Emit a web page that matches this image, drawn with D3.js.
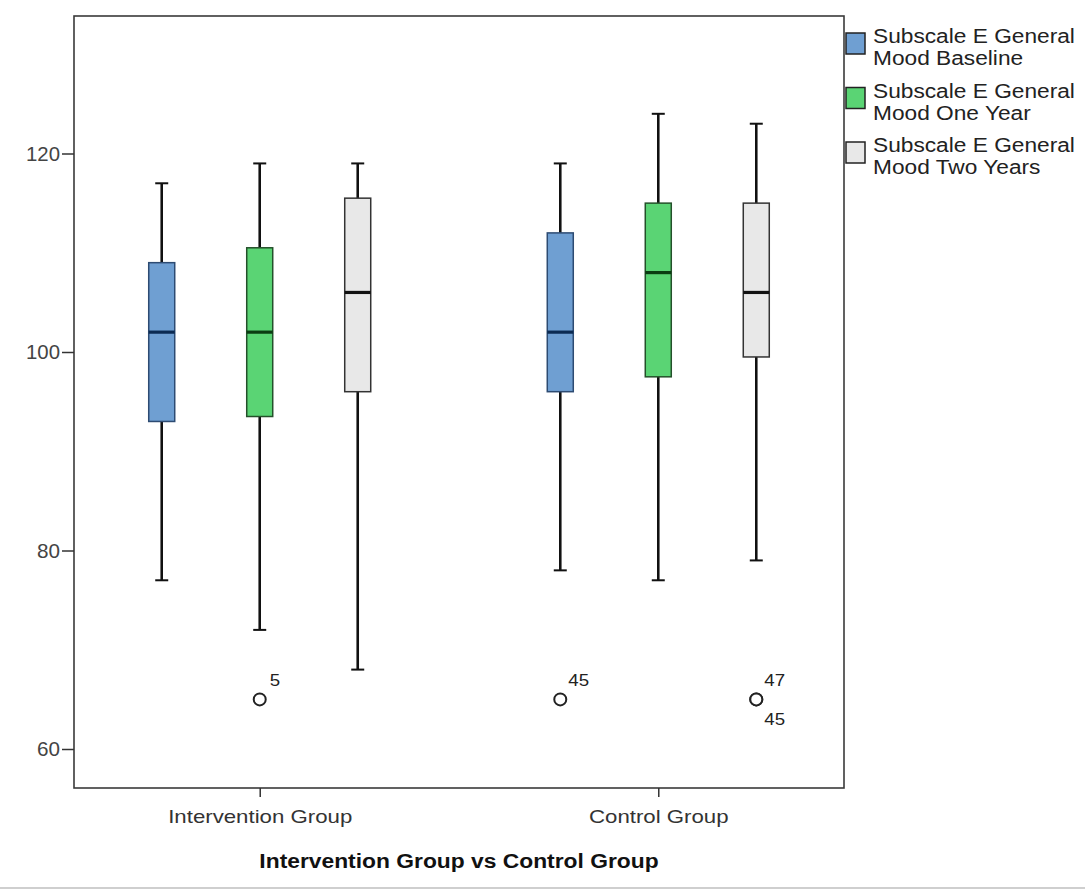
<!DOCTYPE html>
<html><head><meta charset="utf-8">
<script src="https://cdn.jsdelivr.net/npm/d3@7"></script>
<style>
html,body{margin:0;padding:0;background:#fff;}
svg{display:block;font-family:"Liberation Sans",Arial,sans-serif;}
</style></head>
<body>
<svg id="chart" width="1085" height="890"></svg>
<script>
// ---- data ----
const groups = ["Intervention Group", "Control Group"];
const seriesNames = ["Baseline", "One Year", "Two Years"];
const legendLines = [
  ["Subscale E General", "Mood Baseline"],
  ["Subscale E General", "Mood One Year"],
  ["Subscale E General", "Mood Two Years"]
];
const seriesColors = ["#6f9fd2", "#5ad474", "#e8e8e8"];
const seriesStrokes = ["#2d4b72", "#24502a", "#333333"];
const medianStrokes = ["#0b2a52", "#0b3d12", "#111111"];

// per series, values for [Intervention, Control]
const whiskerLow = [[77, 78], [72, 77], [68, 79]];
const q1Values   = [[93, 96], [93.5, 97.5], [96, 99.5]];
const medians    = [[102, 102], [102, 108], [106, 106]];
const q3Values   = [[109, 112], [110.5, 115], [115.5, 115]];
const whiskerHigh= [[117, 119], [119, 124], [119, 123]];

const outlierGroup  = ["Intervention Group", "Control Group", "Control Group", "Control Group"];
const outlierSeries = ["One Year", "Baseline", "Two Years", "Two Years"];
const outlierValue  = [65, 65, 65, 65];
const outlierLabel  = ["5", "45", "47", "45"];
const outlierLabelPos = ["above", "above", "above", "below"];

const yTicks = [60, 80, 100, 120];
const xTitle = "Intervention Group vs Control Group";

// ---- layout ----
const svg = d3.select("#chart");
const plot = {left: 74, right: 844, top: 16, bottom: 788};
const STRETCH = 1.17;

const y = d3.scaleLinear().domain([60, 120]).range([749, 153.5]);
const x = d3.scalePoint().domain(groups).range([plot.left, plot.right]).padding(0.466);
const xs = d3.scalePoint().domain(seriesNames).range([-98, 98]);
const boxW = 26, capW = 13;

function stretch(sel, factor) {
  sel.each(function () {
    const len = this.getComputedTextLength();
    d3.select(this).attr("textLength", len * factor).attr("lengthAdjust", "spacingAndGlyphs");
  });
}

// bottom light border
svg.append("line").attr("x1", 0).attr("x2", 1085).attr("y1", 888).attr("y2", 888)
  .attr("stroke", "#cfcfcf").attr("stroke-width", 2);

// frame
svg.append("rect").attr("x", plot.left).attr("y", plot.top)
  .attr("width", plot.right - plot.left).attr("height", plot.bottom - plot.top)
  .attr("fill", "#fff").attr("stroke", "#3a3a3a").attr("stroke-width", 1.6);

// y axis
const yAxis = svg.append("g").attr("transform", `translate(${plot.left},0)`)
  .call(d3.axisLeft(y).tickValues(yTicks).tickSize(12).tickPadding(2).tickFormat(d3.format("d")));
yAxis.select(".domain").remove();
yAxis.selectAll(".tick line").attr("stroke", "#333").attr("stroke-width", 1.5);
yAxis.selectAll(".tick text").attr("font-size", 21).attr("fill", "#444")
  .attr("font-family", "'Liberation Sans', Arial, sans-serif")
  .attr("textLength", 34).attr("lengthAdjust", "spacingAndGlyphs");
yAxis.selectAll(".tick").filter(d => d === 60 || d === 80).select("text").attr("textLength", 23);

// x axis
const xAxis = svg.append("g").attr("transform", `translate(0,${plot.bottom})`)
  .call(d3.axisBottom(x).tickSize(9).tickPadding(13));
xAxis.select(".domain").remove();
xAxis.selectAll(".tick line").attr("stroke", "#333").attr("stroke-width", 1.5);
xAxis.selectAll(".tick text").attr("font-size", 19).attr("fill", "#333")
  .attr("font-family", "'Liberation Sans', Arial, sans-serif").call(stretch, STRETCH);

// x title
svg.append("text").attr("x", (x(groups[0]) + x(groups[1])) / 2).attr("y", 868)
  .attr("text-anchor", "middle").attr("font-size", 19.5).attr("font-weight", "bold").attr("fill", "#111")
  .text(xTitle).call(stretch, STRETCH);

// boxes
const boxes = [];
seriesNames.forEach((s, si) => {
  groups.forEach((g, gi) => {
    boxes.push({g, s, si, lo: whiskerLow[si][gi], q1: q1Values[si][gi], med: medians[si][gi],
      q3: q3Values[si][gi], hi: whiskerHigh[si][gi], cx: x(g) + xs(s)});
  });
});

const bg = svg.append("g");
const b = bg.selectAll("g.box").data(boxes).join("g").attr("class", "box");
// whiskers
b.append("line").attr("x1", d => d.cx).attr("x2", d => d.cx)
  .attr("y1", d => y(d.hi)).attr("y2", d => y(d.q3)).attr("stroke", "#111").attr("stroke-width", 2.6);
b.append("line").attr("x1", d => d.cx).attr("x2", d => d.cx)
  .attr("y1", d => y(d.q1)).attr("y2", d => y(d.lo)).attr("stroke", "#111").attr("stroke-width", 2.6);
b.append("line").attr("x1", d => d.cx - capW / 2).attr("x2", d => d.cx + capW / 2)
  .attr("y1", d => y(d.hi)).attr("y2", d => y(d.hi)).attr("stroke", "#111").attr("stroke-width", 2);
b.append("line").attr("x1", d => d.cx - capW / 2).attr("x2", d => d.cx + capW / 2)
  .attr("y1", d => y(d.lo)).attr("y2", d => y(d.lo)).attr("stroke", "#111").attr("stroke-width", 2);
// box
b.append("rect").attr("x", d => d.cx - boxW / 2).attr("width", boxW)
  .attr("y", d => y(d.q3)).attr("height", d => y(d.q1) - y(d.q3))
  .attr("fill", d => seriesColors[d.si]).attr("stroke", d => seriesStrokes[d.si]).attr("stroke-width", 1.5);
// median
b.append("line").attr("x1", d => d.cx - boxW / 2).attr("x2", d => d.cx + boxW / 2)
  .attr("y1", d => y(d.med)).attr("y2", d => y(d.med))
  .attr("stroke", d => medianStrokes[d.si]).attr("stroke-width", 3.2);

// outliers
const outliers = outlierValue.map((v, i) => ({
  cx: x(outlierGroup[i]) + xs(outlierSeries[i]), v, label: outlierLabel[i], pos: outlierLabelPos[i]
}));
const og = svg.append("g");
og.selectAll("circle").data(outliers).join("circle")
  .attr("cx", d => d.cx).attr("cy", d => y(d.v)).attr("r", 6)
  .attr("fill", "#fff").attr("stroke", "#222").attr("stroke-width", 2);
og.selectAll("text").data(outliers).join("text")
  .attr("x", d => d.cx + (d.label.length > 1 ? 8 : 10))
  .attr("y", d => y(d.v) + (d.pos === "above" ? -13 : 26))
  .attr("font-size", 17).attr("fill", "#222").text(d => d.label).call(stretch, 1.1);

// legend
const lg = svg.append("g");
const legendTop = 33, legendStep = 54.5;
legendLines.forEach((lines, i) => {
  const yy = legendTop + i * legendStep;
  lg.append("rect").attr("x", 846).attr("y", yy).attr("width", 19).attr("height", 21)
    .attr("fill", seriesColors[i]).attr("stroke", "#222").attr("stroke-width", 1.5);
  lines.forEach((t, li) => {
    lg.append("text").attr("x", 873).attr("y", yy + 10 + li * 22).attr("font-size", 20)
      .attr("fill", "#222").text(t).call(stretch, 1.135);
  });
});
</script>
</body></html>
